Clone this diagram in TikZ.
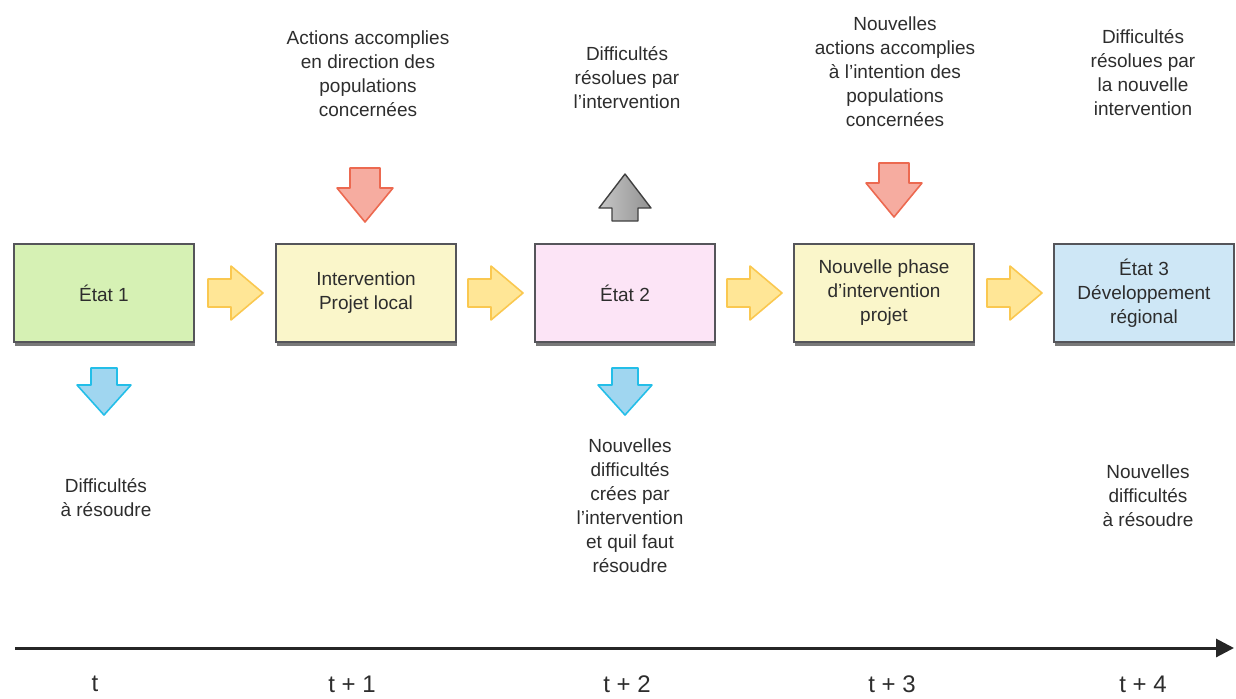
\documentclass[tikz,border=0pt]{standalone}
\usepackage{fontspec}
\setmainfont{Liberation Sans}
\usetikzlibrary{shadows,arrows.meta}

\definecolor{txtgray}{RGB}{45,45,45}
\definecolor{boxline}{RGB}{85,85,90}
\definecolor{greenfill}{RGB}{214,241,180}
\definecolor{yellowfill}{RGB}{250,246,202}
\definecolor{pinkfill}{RGB}{252,228,246}
\definecolor{bluefill}{RGB}{206,231,246}
\definecolor{yarrfill}{RGB}{255,230,150}
\definecolor{yarrline}{RGB}{250,200,80}
\definecolor{rarrfill}{RGB}{246,172,160}
\definecolor{rarrline}{RGB}{236,105,80}
\definecolor{barrfill}{RGB}{160,214,240}
\definecolor{barrline}{RGB}{35,190,232}

\tikzset{
	statebox/.style={draw=boxline,line width=0.9pt,rectangle,minimum width=90pt,minimum height=49pt,inner sep=2pt,align=center,text=txtgray,font=\fontsize{9.5}{12}\selectfont,drop shadow={opacity=0.75,fill=black!70,shadow xshift=0.5pt,shadow yshift=-2.2pt}},
	note/.style={align=center,text=txtgray,inner sep=0,font=\fontsize{9.5}{12}\selectfont},
	tick/.style={text=txtgray,inner sep=0,font=\fontsize{12}{14}\selectfont},
	yarr/.style={fill=yarrfill,draw=yarrline,line width=0.8pt,line join=round},
	rarr/.style={fill=rarrfill,draw=rarrline,line width=0.8pt,line join=round},
	barr/.style={fill=barrfill,draw=barrline,line width=0.8pt,line join=round},
	garr/.style={left color=gray!45,right color=gray!85,draw=black!75,line width=0.7pt,line join=round},
	timeline/.style={draw=black!85,line width=1.5pt,-{Triangle[length=9pt,width=9pt]}}
}

\begin{document}
\begin{tikzpicture}[x=0.5pt,y=-0.5pt]
	\useasboundingbox (0,0) rectangle (1236,698);

	\node[statebox,fill=greenfill] (etat1) at (104,293) {État 1};
	\node[statebox,fill=yellowfill] (interv) at (366,293) {Intervention\\Projet local};
	\node[statebox,fill=pinkfill] (etat2) at (625,293) {État 2};
	\node[statebox,fill=yellowfill] (phase) at (884,293) {Nouvelle phase\\d'intervention\\projet};
	\node[statebox,fill=bluefill] (etat3) at (1144,293) {État 3\\Développement\\régional};

	% fleches jaunes
	\foreach \cx in {235,495,754,1014}
		\draw[yarr,shift={(\cx,293)}] (-27,-14) -- (-4,-14) -- (-4,-27) -- (28,0) -- (-4,27) -- (-4,14) -- (-27,14) -- cycle;

	\draw[rarr,shift={(365,195)}] (-15,-27) -- (15,-27) -- (15,-7) -- (28,-7) -- (0,27) -- (-28,-7) -- (-15,-7) -- cycle;
	\draw[rarr,shift={(894,190)}] (-15,-27) -- (15,-27) -- (15,-7) -- (28,-7) -- (0,27) -- (-28,-7) -- (-15,-7) -- cycle;
	\draw[garr,shift={(625,198)}] (-13,23) -- (13,23) -- (13,10) -- (26,10) -- (0,-24) -- (-26,10) -- (-13,10) -- cycle;
	\draw[barr,shift={(104,391)}] (-13,-23) -- (13,-23) -- (13,-6) -- (27,-6) -- (0,24) -- (-27,-6) -- (-13,-6) -- cycle;
	\draw[barr,shift={(625,391)}] (-13,-23) -- (13,-23) -- (13,-6) -- (27,-6) -- (0,24) -- (-27,-6) -- (-13,-6) -- cycle;

	\node[note] (act1) at (368,74) {Actions accomplies\\en direction des\\populations\\concernées};
	\node[note] (res1) at (627,78) {Difficultés\\résolues par\\l'intervention};
	\node[note] (act2) at (895,72) {Nouvelles\\actions accomplies\\à l'intention des\\populations\\concernées};
	\node[note] (res2) at (1143,73) {Difficultés\\résolues par\\la nouvelle\\intervention};
	\node[note] (dif1) at (106,498) {Difficultés\\à résoudre};
	\node[note] (dif2) at (630,506) {Nouvelles\\difficultés\\crées par\\l'intervention\\et quil faut\\résoudre};
	\node[note] (dif3) at (1148,496) {Nouvelles\\difficultés\\à résoudre};

	\coordinate (start) at (15,648);
	\coordinate (end) at (1234,648);
	\draw[timeline] (start) -- (end);

	\node[tick] (t0) at (95,684) {t};
	\node[tick] (t1) at (352,684) {t + 1};
	\node[tick] (t2) at (627,684) {t + 2};
	\node[tick] (t3) at (892,684) {t + 3};
	\node[tick] (t4) at (1143,684) {t + 4};
\end{tikzpicture}
\end{document}
